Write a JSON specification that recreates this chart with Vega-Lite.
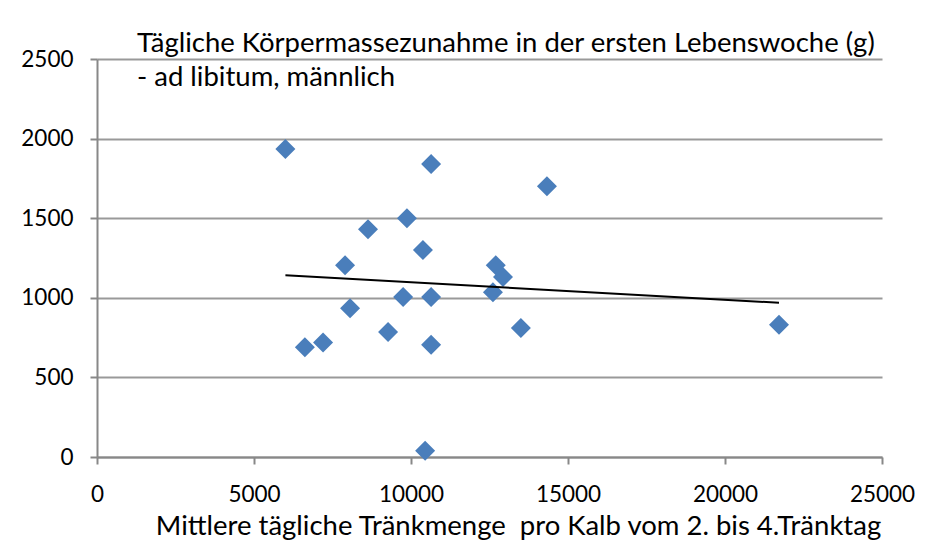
{
  "$schema": "https://vega.github.io/schema/vega-lite/v6.json",
  "autosize": "none",
  "width": 785,
  "height": 398,
  "padding": {"left": 97, "top": 59, "right": 43, "bottom": 87},
  "background": "white",
  "config": {
    "view": {"stroke": null},
    "font": "Lato"
  },
  "title": {
    "text": ["Tägliche Körpermassezunahme in der ersten Lebenswoche (g)", "- ad libitum, männlich"],
    "anchor": "start",
    "frame": "group",
    "baseline": "top",
    "font": "Lato",
    "fontSize": 27.5,
    "fontWeight": "normal",
    "color": "black",
    "lineHeight": 34,
    "dx": 40,
    "dy": 47
  },
  "data": {
    "values": [
      {"x": 6000, "y": 1935},
      {"x": 10640, "y": 1840},
      {"x": 14330, "y": 1700},
      {"x": 9870, "y": 1500},
      {"x": 8630, "y": 1430},
      {"x": 10380, "y": 1300},
      {"x": 7900, "y": 1205},
      {"x": 12700, "y": 1205},
      {"x": 12930, "y": 1130},
      {"x": 12610, "y": 1035},
      {"x": 9750, "y": 1005},
      {"x": 10640, "y": 1005},
      {"x": 8060, "y": 935},
      {"x": 13500, "y": 810},
      {"x": 9270, "y": 785},
      {"x": 21720, "y": 830},
      {"x": 7200, "y": 720},
      {"x": 6620, "y": 690},
      {"x": 10640, "y": 705},
      {"x": 10450, "y": 40}
    ]
  },
  "layer": [
    {
      "mark": {"type": "point", "shape": "diamond", "filled": true, "size": 400, "color": "#4A7EBB", "opacity": 1},
      "encoding": {
        "x": {
          "field": "x", "type": "quantitative",
          "scale": {"domain": [0, 25000], "nice": false, "zero": false},
          "axis": {
            "values": [0, 5000, 10000, 15000, 20000, 25000],
            "format": "d",
            "grid": false,
            "domainColor": "#888888",
            "domainWidth": 2,
            "tickColor": "#888888",
            "tickWidth": 2,
            "tickSize": 7,
            "labelFont": "Lato",
            "labelFontSize": 22.5,
            "labelColor": "black",
            "labelBaseline": "alphabetic",
            "labelPadding": 37,
            "labelFlush": false,
            "labelOverlap": false,
            "title": "Mittlere tägliche Tränkmenge\u00a0 pro Kalb vom 2. bis 4.Tränktag",
            "titleFont": "Lato",
            "titleFontSize": 27.5,
            "titleFontWeight": "normal",
            "titleColor": "black",
            "titleBaseline": "alphabetic",
            "titleAnchor": "middle",
            "titleX": 421,
            "titleY": 77
          }
        },
        "y": {
          "field": "y", "type": "quantitative",
          "scale": {"domain": [0, 2500], "nice": false, "zero": false},
          "axis": {
            "values": [0, 500, 1000, 1500, 2000, 2500],
            "format": "d",
            "grid": true,
            "gridColor": "#999999",
            "gridWidth": 2,
            "domainColor": "#888888",
            "domainWidth": 2,
            "tickColor": "#888888",
            "tickWidth": 2,
            "tickSize": 7,
            "labelFont": "Lato",
            "labelFontSize": 22.5,
            "labelColor": "black",
            "labelPadding": 17,
            "labelFlush": false,
            "labelOverlap": false,
            "title": null
          }
        }
      }
    },
    {
      "transform": [{"regression": "y", "on": "x"}],
      "mark": {"type": "line", "color": "black", "strokeWidth": 2},
      "encoding": {
        "x": {"field": "x", "type": "quantitative"},
        "y": {"field": "y", "type": "quantitative"}
      }
    }
  ]
}
